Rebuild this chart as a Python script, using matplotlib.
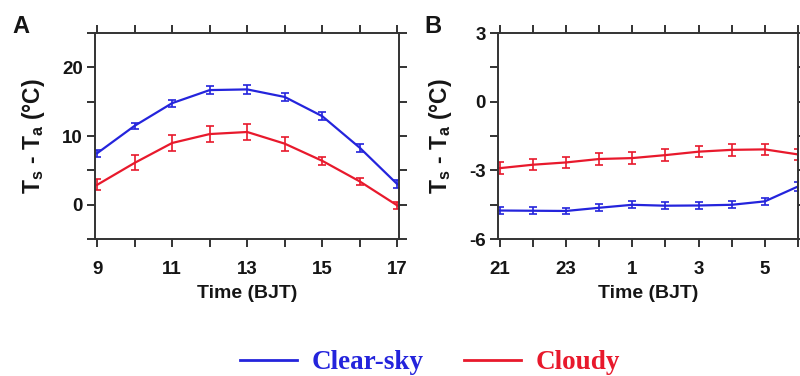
import matplotlib
matplotlib.use("Agg")
import matplotlib.pyplot as plt
import numpy as np
from matplotlib.lines import Line2D

plt.rcParams['font.family'] = ['Liberation Sans', 'DejaVu Sans']
plt.rcParams['mathtext.fontset'] = 'custom'
plt.rcParams['mathtext.rm'] = 'Liberation Sans:bold'
plt.rcParams['mathtext.it'] = 'Liberation Sans:bold'
plt.rcParams['mathtext.bf'] = 'Liberation Sans:bold'

# Panel A: daytime
day_hours = [9, 10, 11, 12, 13, 14, 15, 16, 17]
day_clear = [7.5, 11.5, 14.8, 16.7, 16.8, 15.7, 12.9, 8.3, 3.0]
day_clear_err = [0.5, 0.4, 0.5, 0.6, 0.6, 0.6, 0.6, 0.6, 0.6]
day_cloudy = [2.9, 6.1, 9.0, 10.3, 10.6, 8.9, 6.4, 3.4, -0.1]
day_cloudy_err = [0.8, 1.1, 1.1, 1.1, 1.2, 1.0, 0.6, 0.5, 0.5]

# Panel B: nighttime
night_labels = ['21', '22', '23', '0', '1', '2', '3', '4', '5', '6']
night_clear = [-4.75, -4.76, -4.77, -4.63, -4.5, -4.54, -4.53, -4.5, -4.35, -3.7]
night_clear_err = [0.15, 0.15, 0.15, 0.15, 0.15, 0.15, 0.15, 0.15, 0.15, 0.2]
night_cloudy = [-2.9, -2.75, -2.65, -2.5, -2.46, -2.33, -2.18, -2.1, -2.08, -2.3]
night_cloudy_err = [0.25, 0.25, 0.25, 0.25, 0.25, 0.25, 0.25, 0.25, 0.25, 0.25]

BLUE = '#2424dc'
RED = '#e8192c'
SP = '#333333'
TXT = '#151515'

fig = plt.figure(figsize=(8, 3.76), dpi=100)
axA = fig.add_axes([0.119, 0.364, 0.380, 0.548])
axB = fig.add_axes([0.6225, 0.364, 0.375, 0.548])

def style(ax):
    for s in ax.spines.values():
        s.set_linewidth(1.4)
        s.set_color(SP)
    ax.tick_params(which='both', direction='out', length=6, width=1.4, color=SP,
                   top=True, right=True, labelsize=13.5, labelcolor=TXT)
    ax.tick_params(axis='x', pad=10)
    ax.tick_params(axis='y', pad=3)
    for lab in ax.get_xticklabels() + ax.get_yticklabels():
        lab.set_fontweight('bold')

ekw = dict(capsize=3, elinewidth=1.2, capthick=1.2, lw=1.6)

# Panel A
axA.errorbar(day_hours, day_clear, yerr=day_clear_err, color=BLUE, **ekw)
axA.errorbar(day_hours, day_cloudy, yerr=day_cloudy_err, color=RED, **ekw)
axA.set_xlim(8.95, 17.05)
axA.set_ylim(-5, 25)
axA.set_xticks(day_hours)
axA.set_xticklabels([str(h) if h % 2 == 1 else '' for h in day_hours])
yA = [-5, 0, 5, 10, 15, 20, 25]
axA.set_yticks(yA)
axA.set_yticklabels(['0' if v == 0 else ('10' if v == 10 else ('20' if v == 20 else '')) for v in yA])
style(axA)

# Panel B
xN = np.arange(len(night_labels))
axB.errorbar(xN, night_cloudy, yerr=night_cloudy_err, color=RED, **ekw)
axB.errorbar(xN, night_clear, yerr=night_clear_err, color=BLUE, **ekw)
axB.set_xlim(-0.05, 9.0)
axB.set_ylim(-6, 3)
axB.set_xticks(xN)
axB.set_xticklabels([l if i % 2 == 0 else '' for i, l in enumerate(night_labels)])
yB = [-6, -4.5, -3, -1.5, 0, 1.5, 3]
axB.set_yticks(yB)
axB.set_yticklabels(['-6' if v == -6 else ('-3' if v == -3 else ('0' if v == 0 else ('3' if v == 3 else ''))) for v in yB])
style(axB)

for ax in (axA, axB):
    ax.set_xlabel('Time (BJT)', fontsize=14, fontweight='bold', labelpad=5, color=TXT)
    ax.set_ylabel(r'T$_\mathrm{s}$ - T$_\mathrm{a}$ (°C)', fontsize=16.5, fontweight='bold',
                  labelpad=11, color=TXT)

fig.text(0.016, 0.912, 'A', fontsize=17, fontweight='bold', va='baseline', color=TXT)
fig.text(0.531, 0.912, 'B', fontsize=17, fontweight='bold', va='baseline', color=TXT)

# Legend
handles = [Line2D([], [], color=BLUE, lw=2), Line2D([], [], color=RED, lw=2)]
leg = fig.legend(handles, ['Clear-sky', 'Cloudy'], loc='center', bbox_to_anchor=(0.5375, 0.035),
                 ncol=2, frameon=False, handlelength=2.1, columnspacing=1.5, handletextpad=0.55,
                 prop={'family': 'Liberation Serif', 'weight': 'bold', 'size': 19.5})
for t, c in zip(leg.get_texts(), [BLUE, RED]):
    t.set_color(c)

fig.savefig('out.png', dpi=100)
